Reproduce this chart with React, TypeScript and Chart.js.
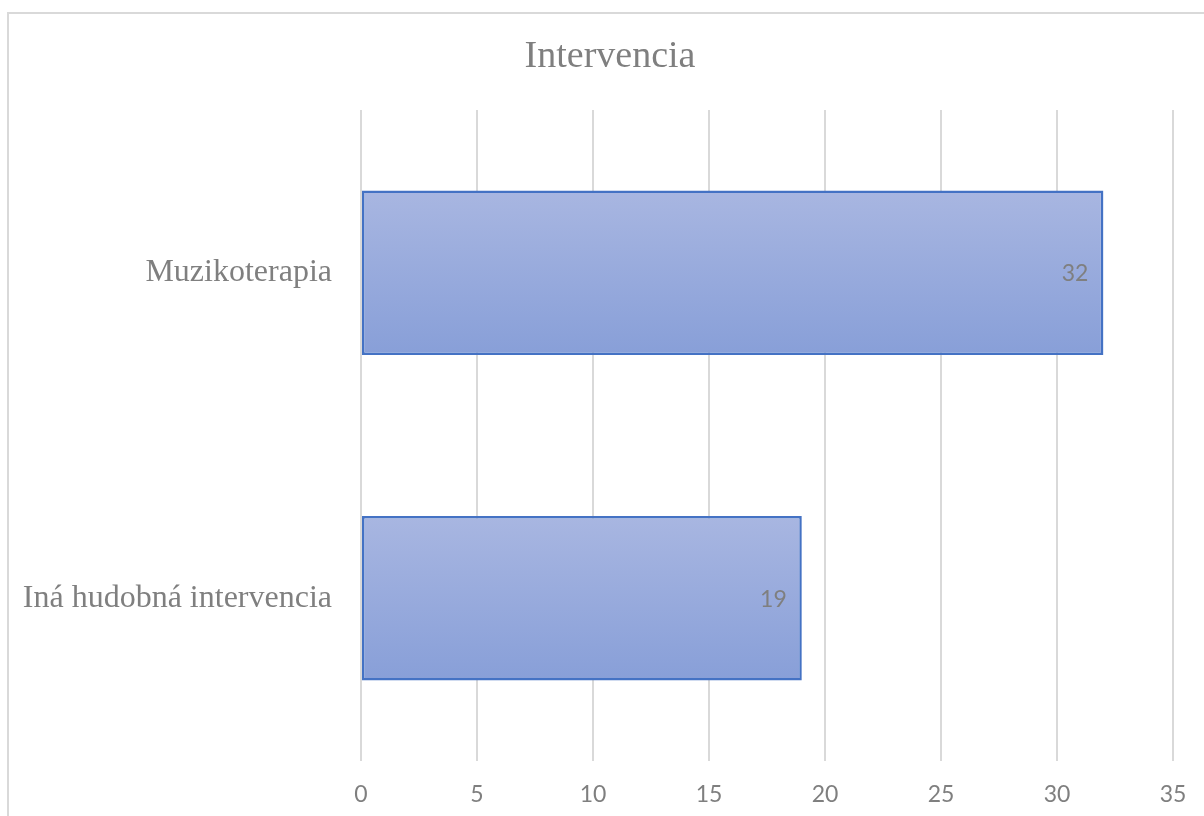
import React, { useEffect, useRef } from "react";
import { Chart, registerables } from "chart.js";

Chart.register(...registerables);

const chartTitle = "Intervencia";
const categories = ["Muzikoterapia", "Iná hudobná intervencia"];
const seriesValues = [32, 19];
const axisMin = 0;
const axisMax = 35;
const axisStep = 5;

const TEXT_GRAY = "#7f7f7f";
const GRID_GRAY = "#d9d9d9";

const framePlugin = {
  id: "frameAndTitle",
  beforeDraw(chart: any) {
    const ctx = chart.ctx;
    ctx.save();
    ctx.fillStyle = "#ffffff";
    ctx.fillRect(0, 0, chart.width, chart.height);
    ctx.strokeStyle = GRID_GRAY;
    ctx.lineWidth = 2;
    ctx.strokeRect(8, 13, 1210, 820);
    ctx.restore();
  },
  afterDraw(chart: any) {
    const ctx = chart.ctx;
    ctx.save();
    ctx.font = "38px 'Liberation Serif', 'Times New Roman', serif";
    ctx.fillStyle = TEXT_GRAY;
    ctx.textAlign = "center";
    ctx.textBaseline = "alphabetic";
    ctx.fillText(chartTitle, 610, 67);
    ctx.restore();
  },
};

const valueLabelPlugin = {
  id: "valueLabels",
  afterDatasetsDraw(chart: any) {
    const ctx = chart.ctx;
    const meta = chart.getDatasetMeta(0);
    ctx.save();
    ctx.font = "23px Lato, 'Open Sans', sans-serif";
    ctx.fillStyle = TEXT_GRAY;
    ctx.textAlign = "right";
    ctx.textBaseline = "middle";
    meta.data.forEach((bar: any, i: number) => {
      ctx.fillText(String(seriesValues[i]), bar.x - 15, bar.y + 1);
    });
    ctx.restore();
  },
};

export default function App() {
  const canvasRef = useRef<HTMLCanvasElement | null>(null);

  useEffect(() => {
    const canvas = canvasRef.current;
    if (!canvas) return;
    const chart = new Chart(canvas, {
      type: "bar",
      data: {
        labels: categories,
        datasets: [
          {
            data: seriesValues,
            backgroundColor: (context: any) => {
              const c = context.chart;
              const y = c.scales && c.scales.y;
              if (!y || context.dataIndex === undefined) return "#98aadc";
              const center = y.getPixelForValue(context.dataIndex);
              const band = Math.abs(y.getPixelForValue(1) - y.getPixelForValue(0));
              if (!Number.isFinite(center) || !Number.isFinite(band) || band <= 0) return "#98aadc";
              const half = band * 0.25;
              const g = c.ctx.createLinearGradient(0, center - half, 0, center + half);
              g.addColorStop(0, "#a8b6e1");
              g.addColorStop(1, "#889fd8");
              return g;
            },
            borderColor: "#4472c4",
            borderWidth: 2.5,
            borderSkipped: false,
            barPercentage: 0.505,
            categoryPercentage: 1,
          },
        ],
      },
      options: {
        indexAxis: "y",
        responsive: false,
        animation: false,
        layout: { padding: { top: 110, right: 31, left: 0, bottom: 0 } },
        plugins: {
          legend: { display: false },
          title: { display: false },
          tooltip: { enabled: false },
        },
        scales: {
          x: {
            min: axisMin,
            max: axisMax,
            border: { display: false },
            grid: { color: GRID_GRAY, lineWidth: 2, drawTicks: false },
            ticks: {
              stepSize: axisStep,
              color: TEXT_GRAY,
              padding: 20,
              font: { family: "Lato, 'Open Sans', sans-serif", size: 23 },
            },
            afterFit: (scale: any) => {
              scale.height = 55;
              scale.paddingRight = 0;
              scale.paddingLeft = 0;
            },
          },
          y: {
            border: { display: false },
            grid: { display: false, drawTicks: false },
            ticks: {
              color: TEXT_GRAY,
              padding: 29,
              font: { family: "'Liberation Serif', 'Times New Roman', serif", size: 32 },
            },
            afterFit: (scale: any) => {
              scale.width = 361;
            },
          },
        },
      },
      plugins: [framePlugin, valueLabelPlugin],
    });
    return () => chart.destroy();
  }, []);

  return (
    <div
      style={{
        position: "fixed",
        left: 0,
        top: 0,
        width: 1204,
        height: 816,
        overflow: "hidden",
        background: "#ffffff",
      }}
    >
      <canvas ref={canvasRef} width={1204} height={816} style={{ display: "block" }} />
    </div>
  );
}
